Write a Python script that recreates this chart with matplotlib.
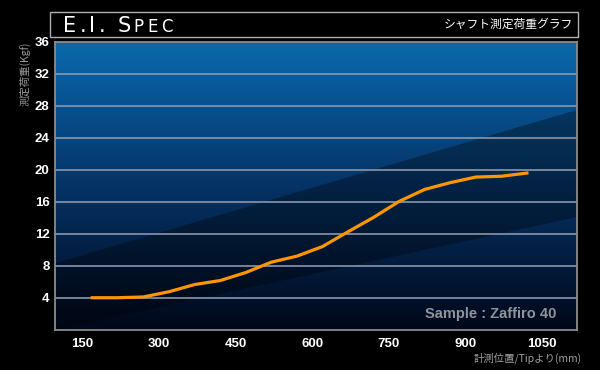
import numpy as np
import matplotlib
matplotlib.use("Agg")
import matplotlib.pyplot as plt
from matplotlib.patches import Polygon, Rectangle

# data
pos_mm = [170, 220, 270, 320, 370, 420, 470, 520, 570, 620,
          670, 720, 770, 820, 870, 920, 970, 1020]
load_kgf = [4.0, 4.0, 4.1, 4.75, 5.65, 6.15, 7.15, 8.45, 9.2, 10.4,
            12.25, 14.05, 16.05, 17.55, 18.4, 19.1, 19.2, 19.6]
x_ticks = [150, 300, 450, 600, 750, 900, 1050]
y_ticks = [4, 8, 12, 16, 20, 24, 28, 32, 36]

title_text = "シャフト測定荷重グラフ"
ylabel_text = "測定荷重(Kgf)"
xlabel_text = "計測位置/Tipより(mm)"
sample_text = "Sample : Zaffiro 40"

fonts = ["Liberation Sans", "Noto Sans CJK JP", "DejaVu Sans"]
cjk = ["Noto Sans CJK JP", "DejaVu Sans"]

fig = plt.figure(figsize=(6, 3.7), dpi=100, facecolor="black")
ax = fig.add_axes([55 / 600, 1 - 329.7 / 370, 522 / 600, 287.7 / 370])
ax.set_facecolor("black")

xmin, xmax = 97, 1118
ax.set_xlim(xmin, xmax)
ax.set_ylim(0, 36)

# vertical gradient background
t = np.linspace(0, 1, 256)[:, None]
top = np.array([0.04, 0.41, 0.68])
mid = np.array([0.02, 0.20, 0.40])
bot = np.array([0.00, 0.03, 0.10])
grad = np.where(t < 0.5, top + (mid - top) * (t / 0.5),
                mid + (bot - mid) * ((t - 0.5) / 0.5))
ax.imshow(grad.reshape(256, 1, 3), extent=[0, 1, 0, 1],
          transform=ax.transAxes, aspect="auto", zorder=0)

# darker diagonal band
band = Polygon([(xmin, 8.3), (xmax, 27.5), (xmax, 14.1), (xmin, 0)],
               closed=True, facecolor="black", alpha=0.32, edgecolor="none",
               zorder=1)
ax.add_patch(band)

for yv in y_ticks[:-1]:
    ax.axhline(yv, color="#8a96aa", lw=1.2, zorder=2)

ax.plot(pos_mm, load_kgf, color="#ff9500", lw=2.3, zorder=3,
        solid_joinstyle="round")

for s in ax.spines.values():
    s.set_color("#8c8c8c")
    s.set_linewidth(1.3)

ax.set_xticks(x_ticks)
ax.set_yticks(y_ticks)
ax.tick_params(length=0, colors="white")
for lab in ax.get_xticklabels() + ax.get_yticklabels():
    lab.set_family(fonts)
    lab.set_fontweight("bold")
    lab.set_fontsize(9.5)
    lab.set_color("white")
ax.tick_params(axis="x", pad=6)
ax.tick_params(axis="y", pad=4)

ax.text(0.96, 0.03, sample_text, transform=ax.transAxes, ha="right",
        va="bottom", color="#8f949c", fontsize=10.5, fontweight="bold",
        family=fonts, zorder=4)

# header box
fig.patches.append(Rectangle((50 / 600, 1 - 37 / 370), 528 / 600, 25 / 370,
                             transform=fig.transFigure, facecolor="black",
                             edgecolor="#b0b0b0", lw=1.0))

# "E.I. Spec" in small caps with wide tracking
renderer = fig.canvas.get_renderer()
x_px = 63
for ch, size in [("E", 15), (".", 15), ("I", 15), (".", 15), (" ", 15),
                 ("S", 15), ("P", 12), ("E", 12), ("C", 12)]:
    txt = fig.text(x_px / 600, 1 - 31.5 / 370, ch, color="white",
                   fontsize=size, family="DejaVu Sans", ha="left",
                   va="baseline")
    w = txt.get_window_extent(renderer).width if ch != " " else 6
    x_px += w + 3.2

fig.text(573 / 600, 1 - 24.5 / 370, title_text, color="white", fontsize=8.5,
         family=cjk, ha="right", va="center")

fig.text(25 / 600, 1 - 74 / 370, ylabel_text, color="#9a9a9a", fontsize=7.5,
         family=cjk, rotation=90, ha="center", va="center")
fig.text(582 / 600, 1 - 358 / 370, xlabel_text, color="#a0a0a0",
         fontsize=7.5, family=cjk, ha="right", va="center")

fig.savefig("out.png", dpi=100, facecolor="black")
